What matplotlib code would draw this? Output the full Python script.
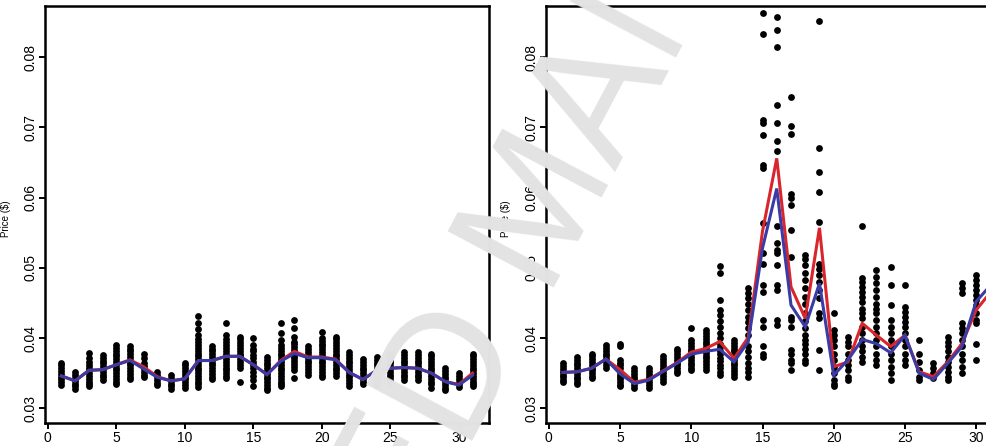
import matplotlib
matplotlib.use("Agg")
import matplotlib.pyplot as plt

plt.rcParams["font.family"] = ["Liberation Sans", "DejaVu Sans"]

days = list(range(1, 32))

# Observed daily prices, left panel (one list per day)
left_prices = [
    [0.0365, 0.0361, 0.0357, 0.0353, 0.0349, 0.0345, 0.0341, 0.0337, 0.0333],
    [0.0351, 0.0347, 0.0343, 0.0339, 0.0335, 0.0331, 0.0328],
    [0.0379, 0.0372, 0.0366, 0.0362, 0.0358, 0.0354, 0.0350, 0.0346, 0.0342, 0.0338, 0.0334, 0.0331],
    [0.0376, 0.0372, 0.0368, 0.0364, 0.0360, 0.0356, 0.0352, 0.0348, 0.0344, 0.0340],
    [0.0390, 0.0386, 0.0382, 0.0378, 0.0374, 0.0370, 0.0366, 0.0362, 0.0358, 0.0354, 0.0350, 0.0346, 0.0342, 0.0338, 0.0335],
    [0.0389, 0.0385, 0.0381, 0.0377, 0.0373, 0.0369, 0.0365, 0.0361, 0.0357, 0.0353, 0.0349, 0.0345, 0.0341],
    [0.0378, 0.0371, 0.0364, 0.0360, 0.0356, 0.0352, 0.0348, 0.0345],
    [0.0352, 0.0348, 0.0344, 0.0340, 0.0336, 0.0333],
    [0.0347, 0.0343, 0.0339, 0.0335, 0.0331, 0.0328],
    [0.0365, 0.0361, 0.0357, 0.0353, 0.0349, 0.0345, 0.0341, 0.0337, 0.0333, 0.0329],
    [0.0431, 0.0422, 0.0413, 0.0404, 0.0398, 0.0394, 0.0390, 0.0386, 0.0382, 0.0378, 0.0374, 0.0370, 0.0366, 0.0362, 0.0358, 0.0354, 0.0350, 0.0346, 0.0342, 0.0338, 0.0334, 0.0330],
    [0.0389, 0.0385, 0.0381, 0.0377, 0.0373, 0.0369, 0.0365, 0.0361, 0.0357, 0.0353, 0.0349, 0.0345, 0.0341],
    [0.0422, 0.0405, 0.0398, 0.0394, 0.0390, 0.0386, 0.0382, 0.0378, 0.0374, 0.0370, 0.0366, 0.0362, 0.0358, 0.0354, 0.0350, 0.0346, 0.0343],
    [0.0402, 0.0398, 0.0394, 0.0390, 0.0386, 0.0382, 0.0378, 0.0374, 0.0370, 0.0366, 0.0362, 0.0358, 0.0338],
    [0.0400, 0.0390, 0.0385, 0.0381, 0.0376, 0.0371, 0.0366, 0.0362, 0.0357, 0.0352, 0.0346, 0.0340, 0.0331],
    [0.0373, 0.0369, 0.0365, 0.0361, 0.0357, 0.0353, 0.0349, 0.0345, 0.0341, 0.0337, 0.0333, 0.0329, 0.0326],
    [0.0422, 0.0407, 0.0397, 0.0390, 0.0386, 0.0382, 0.0378, 0.0374, 0.0370, 0.0366, 0.0362, 0.0358, 0.0354, 0.0350, 0.0346, 0.0342, 0.0338, 0.0334, 0.0331],
    [0.0426, 0.0414, 0.0402, 0.0395, 0.0391, 0.0387, 0.0383, 0.0379, 0.0375, 0.0371, 0.0367, 0.0363, 0.0359, 0.0355, 0.0343],
    [0.0388, 0.0384, 0.0380, 0.0376, 0.0372, 0.0368, 0.0364, 0.0360, 0.0356, 0.0352, 0.0348],
    [0.0409, 0.0400, 0.0396, 0.0392, 0.0388, 0.0384, 0.0380, 0.0376, 0.0372, 0.0368, 0.0364, 0.0360, 0.0356, 0.0352, 0.0348, 0.0345],
    [0.0402, 0.0398, 0.0394, 0.0390, 0.0386, 0.0382, 0.0378, 0.0374, 0.0370, 0.0366, 0.0362, 0.0358, 0.0354, 0.0350, 0.0346],
    [0.0380, 0.0376, 0.0372, 0.0368, 0.0364, 0.0360, 0.0356, 0.0352, 0.0348, 0.0344, 0.0340, 0.0336, 0.0332],
    [0.0370, 0.0366, 0.0362, 0.0358, 0.0354, 0.0350, 0.0346, 0.0342, 0.0338, 0.0334],
    [0.0373, 0.0369, 0.0365, 0.0361, 0.0357, 0.0353, 0.0349, 0.0345, 0.0341, 0.0337, 0.0333],
    [0.0376, 0.0372, 0.0368, 0.0364, 0.0360, 0.0356, 0.0352, 0.0348, 0.0344, 0.0340, 0.0338],
    [0.0380, 0.0376, 0.0372, 0.0368, 0.0364, 0.0360, 0.0356, 0.0352, 0.0348, 0.0344, 0.0340],
    [0.0380, 0.0376, 0.0372, 0.0368, 0.0364, 0.0360, 0.0356, 0.0352, 0.0348, 0.0344, 0.0340],
    [0.0378, 0.0374, 0.0370, 0.0366, 0.0362, 0.0358, 0.0354, 0.0350, 0.0346, 0.0342, 0.0338, 0.0334, 0.0329],
    [0.0357, 0.0353, 0.0349, 0.0345, 0.0341, 0.0337, 0.0333, 0.0329, 0.0326],
    [0.0350, 0.0346, 0.0342, 0.0338, 0.0334, 0.0330],
    [0.0378, 0.0374, 0.0370, 0.0366, 0.0362, 0.0358, 0.0354, 0.0350, 0.0346, 0.0342, 0.0338, 0.0334, 0.0331],
]
left_red = [0.0346, 0.0339, 0.0354, 0.0355, 0.0362, 0.0369, 0.0359, 0.0345, 0.0339, 0.0342, 0.0368, 0.0368,
            0.0374, 0.0374, 0.0362, 0.0348, 0.0368, 0.0381, 0.0373, 0.0373, 0.0370, 0.0351, 0.0341, 0.0354,
            0.0357, 0.0358, 0.0357, 0.0350, 0.0338, 0.0334, 0.0350]
left_blue = [0.0346, 0.0339, 0.0354, 0.0355, 0.0362, 0.0368, 0.0356, 0.0344, 0.0339, 0.0342, 0.0368, 0.0368,
             0.0374, 0.0374, 0.0362, 0.0348, 0.0367, 0.0378, 0.0372, 0.0372, 0.0369, 0.0351, 0.0341, 0.0354,
             0.0357, 0.0358, 0.0357, 0.0350, 0.0338, 0.0333, 0.0347]

# Observed daily prices, right panel
right_prices = [
    [0.0364, 0.0360, 0.0356, 0.0352, 0.0348, 0.0344, 0.0340, 0.0338],
    [0.0373, 0.0369, 0.0365, 0.0361, 0.0357, 0.0353, 0.0349, 0.0345, 0.0341, 0.0337, 0.0335],
    [0.0378, 0.0374, 0.0370, 0.0366, 0.0362, 0.0358, 0.0354, 0.0350, 0.0346, 0.0343],
    [0.0390, 0.0386, 0.0382, 0.0378, 0.0374, 0.0370, 0.0366, 0.0362, 0.0358],
    [0.0392, 0.0388, 0.0369, 0.0365, 0.0361, 0.0357, 0.0352, 0.0348, 0.0345, 0.0341, 0.0338, 0.0333, 0.0331],
    [0.0357, 0.0353, 0.0349, 0.0345, 0.0341, 0.0337, 0.0333, 0.0329],
    [0.0357, 0.0353, 0.0349, 0.0345, 0.0341, 0.0337, 0.0333, 0.0329],
    [0.0374, 0.0370, 0.0366, 0.0362, 0.0358, 0.0354, 0.0350, 0.0346, 0.0342, 0.0338],
    [0.0385, 0.0381, 0.0377, 0.0373, 0.0369, 0.0365, 0.0361, 0.0357, 0.0353, 0.0350],
    [0.0415, 0.0397, 0.0393, 0.0389, 0.0385, 0.0381, 0.0377, 0.0373, 0.0369, 0.0365, 0.0361, 0.0357, 0.0354],
    [0.0411, 0.0407, 0.0403, 0.0399, 0.0395, 0.0391, 0.0387, 0.0383, 0.0379, 0.0375, 0.0371, 0.0367, 0.0363, 0.0359, 0.0355],
    [0.0503, 0.0492, 0.0454, 0.0440, 0.0433, 0.0425, 0.0416, 0.0407, 0.0400, 0.0392, 0.0387, 0.0382, 0.0377, 0.0372, 0.0367, 0.0362, 0.0357, 0.0352, 0.0347],
    [0.0397, 0.0393, 0.0389, 0.0385, 0.0381, 0.0377, 0.0373, 0.0369, 0.0365, 0.0361, 0.0357, 0.0353, 0.0349, 0.0345],
    [0.0471, 0.0464, 0.0457, 0.0449, 0.0440, 0.0430, 0.0423, 0.0414, 0.0404, 0.0388, 0.0381, 0.0373, 0.0364, 0.0357, 0.0352, 0.0345],
    [0.0863, 0.0833, 0.0711, 0.0707, 0.0689, 0.0646, 0.0642, 0.0564, 0.0521, 0.0506, 0.0476, 0.0466, 0.0426, 0.0416, 0.0388, 0.0378, 0.0373],
    [0.0857, 0.0839, 0.0814, 0.0732, 0.0707, 0.0681, 0.0667, 0.0559, 0.0535, 0.0525, 0.0521, 0.0504, 0.0475, 0.0468, 0.0426, 0.0419],
    [0.0744, 0.0702, 0.0690, 0.0605, 0.0599, 0.0589, 0.0554, 0.0516, 0.0430, 0.0426, 0.0416, 0.0383, 0.0378, 0.0369, 0.0364, 0.0354],
    [0.0518, 0.0513, 0.0504, 0.0492, 0.0483, 0.0471, 0.0459, 0.0448, 0.0435, 0.0425, 0.0414, 0.0404, 0.0397, 0.0392, 0.0385, 0.0378, 0.0369, 0.0364],
    [0.0852, 0.0671, 0.0637, 0.0608, 0.0566, 0.0506, 0.0499, 0.0490, 0.0480, 0.0468, 0.0457, 0.0435, 0.0428, 0.0383, 0.0354],
    [0.0435, 0.0411, 0.0404, 0.0397, 0.0388, 0.0378, 0.0369, 0.0359, 0.0350, 0.0340, 0.0335, 0.0331],
    [0.0402, 0.0395, 0.0388, 0.0378, 0.0369, 0.0362, 0.0354, 0.0345, 0.0340],
    [0.0559, 0.0485, 0.0480, 0.0473, 0.0466, 0.0459, 0.0452, 0.0442, 0.0435, 0.0428, 0.0416, 0.0407, 0.0397, 0.0388, 0.0381, 0.0373, 0.0366],
    [0.0497, 0.0487, 0.0478, 0.0468, 0.0459, 0.0449, 0.0442, 0.0435, 0.0426, 0.0416, 0.0407, 0.0397, 0.0388, 0.0378, 0.0369, 0.0362],
    [0.0501, 0.0475, 0.0447, 0.0426, 0.0416, 0.0407, 0.0397, 0.0388, 0.0378, 0.0369, 0.0359, 0.0350, 0.0340],
    [0.0475, 0.0444, 0.0437, 0.0430, 0.0423, 0.0416, 0.0407, 0.0397, 0.0388, 0.0378, 0.0369, 0.0362],
    [0.0397, 0.0378, 0.0366, 0.0354, 0.0345, 0.0340],
    [0.0364, 0.0357, 0.0350, 0.0343],
    [0.0402, 0.0395, 0.0388, 0.0381, 0.0373, 0.0366, 0.0359, 0.0352, 0.0345, 0.0340],
    [0.0478, 0.0471, 0.0464, 0.0421, 0.0414, 0.0407, 0.0397, 0.0388, 0.0378, 0.0369, 0.0359, 0.0350],
    [0.0490, 0.0483, 0.0475, 0.0468, 0.0461, 0.0454, 0.0447, 0.0435, 0.0426, 0.0421, 0.0392, 0.0369],
    [0.0495, 0.0480, 0.0465, 0.0450, 0.0435],
]
right_red = [0.0351, 0.0352, 0.0357, 0.0370, 0.0355, 0.0337, 0.0341, 0.0353, 0.0365, 0.0380, 0.0385, 0.0395,
             0.0371, 0.0401, 0.0552, 0.0656, 0.0473, 0.0428, 0.0557, 0.0359, 0.0366, 0.0421, 0.0404, 0.0388,
             0.0404, 0.0352, 0.0345, 0.0366, 0.0392, 0.0440, 0.0465]
right_blue = [0.0351, 0.0352, 0.0357, 0.0370, 0.0349, 0.0335, 0.0340, 0.0352, 0.0364, 0.0377, 0.0381, 0.0384,
              0.0366, 0.0395, 0.0528, 0.0613, 0.0447, 0.0416, 0.0478, 0.0347, 0.0369, 0.0398, 0.0392, 0.0379,
              0.0404, 0.0350, 0.0341, 0.0364, 0.0388, 0.0452, 0.0475]

x_ticks = [0, 5, 10, 15, 20, 25, 30]
y_ticks = [0.03, 0.04, 0.05, 0.06, 0.07, 0.08]

W, H = 986, 446
fig = plt.figure(figsize=(W / 100, H / 100), dpi=100)
ax_left = fig.add_axes([45 / W, 23 / H, 444 / W, 417 / H])
ax_right = fig.add_axes([546 / W, 23 / H, 461.5 / W, 417 / H])

RED = "#d8262c"
BLUE = "#3b3ba6"

for ax, prices, red, blue in [(ax_left, left_prices, left_red, left_blue),
                              (ax_right, right_prices, right_red, right_blue)]:
    xs, ys = [], []
    for d, vals in zip(days, prices):
        xs.extend([d] * len(vals))
        ys.extend(vals)
    ax.scatter(xs, ys, s=24, color="black", linewidths=0, zorder=2, clip_on=False)
    ax.plot(days, red, color=RED, lw=2.2, zorder=3, solid_joinstyle="miter")
    ax.plot(days, blue, color=BLUE, lw=2.2, zorder=4, solid_joinstyle="miter")
    ax.set_xlim(-0.2, 32.2)
    ax.set_ylim(0.0279, 0.0873)
    ax.set_xticks(x_ticks)
    ax.set_xticklabels([str(t) for t in x_ticks])
    ax.set_yticks(y_ticks)
    ax.set_yticklabels([f"{t:.2f}" for t in y_ticks], rotation=90, va="center")
    ax.tick_params(direction="out", length=4, width=1.4, labelsize=10, pad=1.5, colors="black")
    for sp in ax.spines.values():
        sp.set_linewidth(1.8)
        sp.set_color("black")
    ax.set_ylabel("Price ($)", fontsize=7)
    ax.yaxis.set_label_coords(-34 / 444, 0.49)

# Diagonal manuscript stamp across the page, anchored at the start of its baseline
fig.text(81 / W, 1 - 1177 / H, "ACCEPTED MANUSCRIPT", fontsize=125, color="#e3e3e3",
         rotation=62, rotation_mode="anchor", ha="left", va="baseline", zorder=10)

fig.savefig("out.png", dpi=100)
